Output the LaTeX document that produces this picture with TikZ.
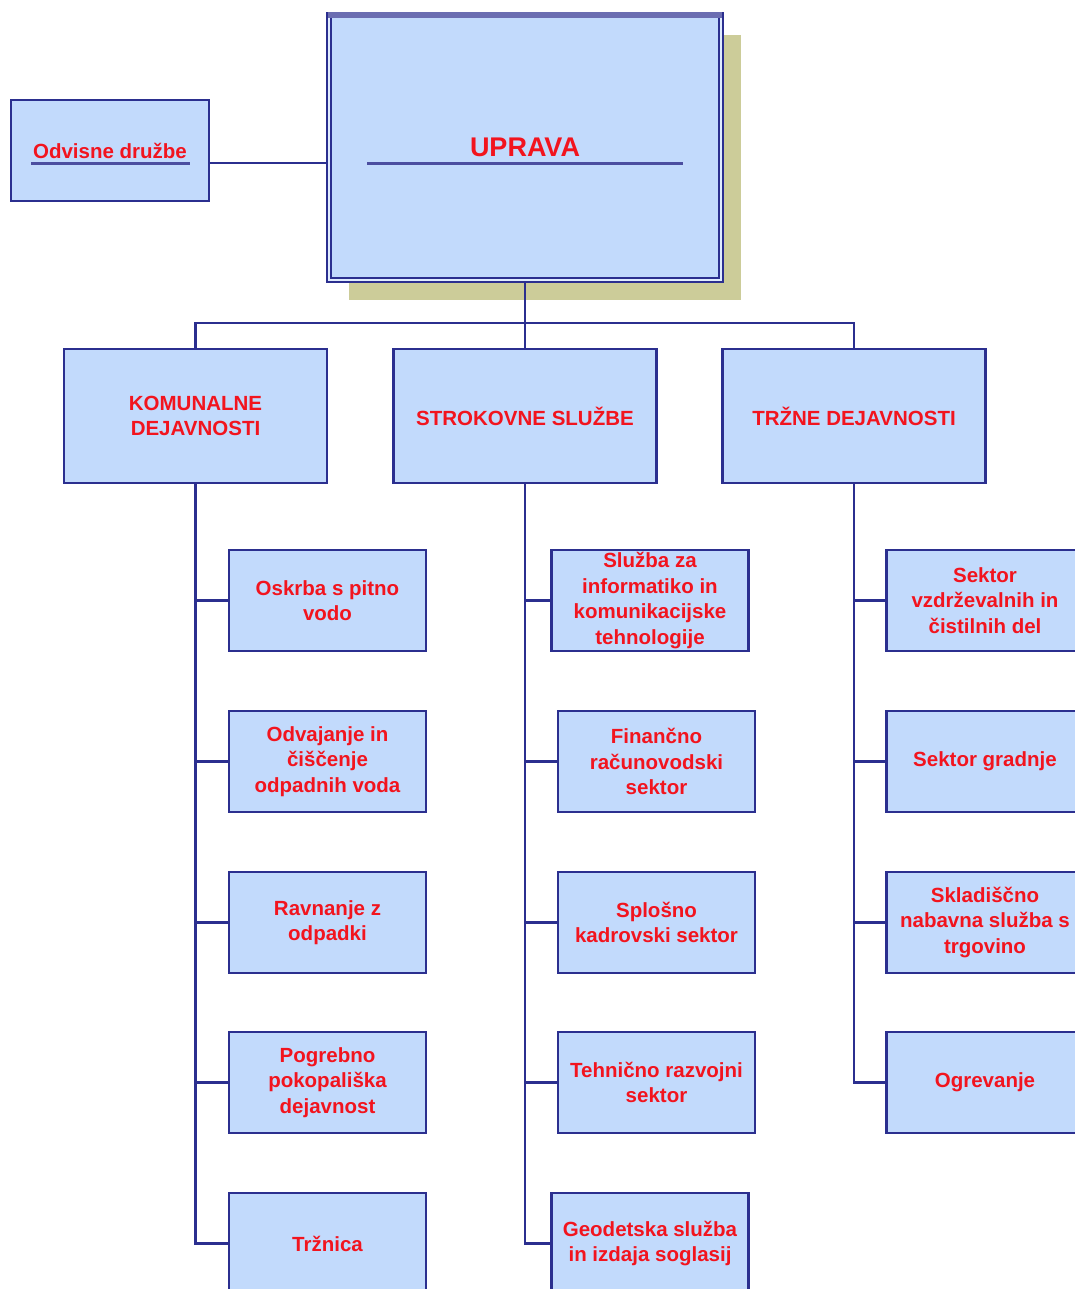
\documentclass[tikz,border=0pt]{standalone}
\usepackage{fontspec}
\setmainfont{Liberation Sans}
\usetikzlibrary{shadows}

\definecolor{boxfill}{HTML}{C2DAFC}
\definecolor{boxline}{HTML}{2B2F8F}
\definecolor{labelred}{HTML}{F2141E}
\definecolor{shadowkhaki}{HTML}{CCCC99}

\tikzset{
  orgbox/.style={draw=boxline, fill=boxfill, line width=2.4pt, text=labelred,
    font=\bfseries\fontsize{20.5}{25.5}\selectfont, align=center, inner sep=0pt},
  unitbox/.style={orgbox, minimum width=197pt, minimum height=101pt},
  sectbox/.style={orgbox, minimum width=263pt, minimum height=134pt},
  link/.style={draw=boxline, line width=2.6pt},
  underrule/.style={draw=boxline!85!white, line width=3pt},
}

\begin{document}
\begin{tikzpicture}[x=1pt,y=-1pt]
  \useasboundingbox (0,0) rectangle (1075,1289);

  % top level
  \node[orgbox, minimum width=392pt, minimum height=265pt, line width=2.2pt,
        double=boxfill!50!white, double distance=2pt,
        drop shadow={shadow xshift=20pt, shadow yshift=-20pt, fill=shadowkhaki, opacity=1},
        font=\bfseries\fontsize{27}{32}\selectfont] (uprava) at (525,147.5) {UPRAVA};
  \draw[line width=6pt, draw=boxline!70!white] ([yshift=-1pt]uprava.north west) -- ([yshift=-1pt]uprava.north east);
  \draw[underrule] ([xshift=-158pt,yshift=-16.5pt]uprava.center) -- ([xshift=158pt,yshift=-16.5pt]uprava.center);

  \node[unitbox, minimum width=198pt] (odvisne) at (110,150.5) {Odvisne družbe};
  \draw[underrule] ([xshift=-79pt,yshift=-13.5pt]odvisne.center) -- ([xshift=80pt,yshift=-13.5pt]odvisne.center);
  \coordinate (odvlink) at ([yshift=-12.5pt]odvisne.east);
  \draw[link] (odvlink) -- (odvlink -| uprava.west);

  % sectors
  \node[sectbox] (kom) at (195.5,416) {KOMUNALNE\\DEJAVNOSTI};
  \node[sectbox] (str) at (525,416)   {STROKOVNE SLUŽBE};
  \node[sectbox] (trz) at (854,416)   {TRŽNE DEJAVNOSTI};

  \coordinate (bus) at (525,323);
  \draw[link] (uprava.south) -- (bus);
  \draw[link] (kom.north) |- (bus) -| (trz.north);
  \draw[link] (bus) -- (str.north);

  % komunalne dejavnosti
  \node[unitbox] (k1) at (327.5,600.5)  {Oskrba s pitno\\vodo};
  \node[unitbox] (k2) at (327.5,761.5)  {Odvajanje in\\čiščenje\\odpadnih voda};
  \node[unitbox] (k3) at (327.5,922.5)  {Ravnanje z\\odpadki};
  \node[unitbox] (k4) at (327.5,1082.5) {Pogrebno\\pokopališka\\dejavnost};
  \node[unitbox] (k5) at (327.5,1243.5) {Tržnica};

  % strokovne sluzbe
  \node[unitbox] (s1) at (650,600.5)    {Služba za\\informatiko in\\komunikacijske\\tehnologije};
  \node[unitbox] (s2) at (656.5,761.5)  {Finančno\\računovodski\\sektor};
  \node[unitbox] (s3) at (656.5,922.5)  {Splošno\\kadrovski sektor};
  \node[unitbox] (s4) at (656.5,1082.5) {Tehnično razvojni\\sektor};
  \node[unitbox] (s5) at (650,1243.5)   {Geodetska služba\\in izdaja soglasij};

  % trzne dejavnosti
  \node[unitbox] (t1) at (985,600.5)  {Sektor\\vzdrževalnih in\\čistilnih del};
  \node[unitbox] (t2) at (985,761.5)  {Sektor gradnje};
  \node[unitbox] (t3) at (985,922.5)  {Skladiščno\\nabavna služba s\\trgovino};
  \node[unitbox] (t4) at (985,1082.5) {Ogrevanje};

  \begin{scope}[every edge/.style={link, to path={|- (\tikztotarget)}}]
    \path (kom.south) edge (k1.west) edge (k2.west) edge (k3.west)
                      edge (k4.west) edge (k5.west);
    \path (str.south) edge (s1.west) edge (s2.west) edge (s3.west)
                      edge (s4.west) edge (s5.west);
    \path (trz.south) edge (t1.west) edge (t2.west) edge (t3.west)
                      edge (t4.west);
  \end{scope}

\end{tikzpicture}
\end{document}
